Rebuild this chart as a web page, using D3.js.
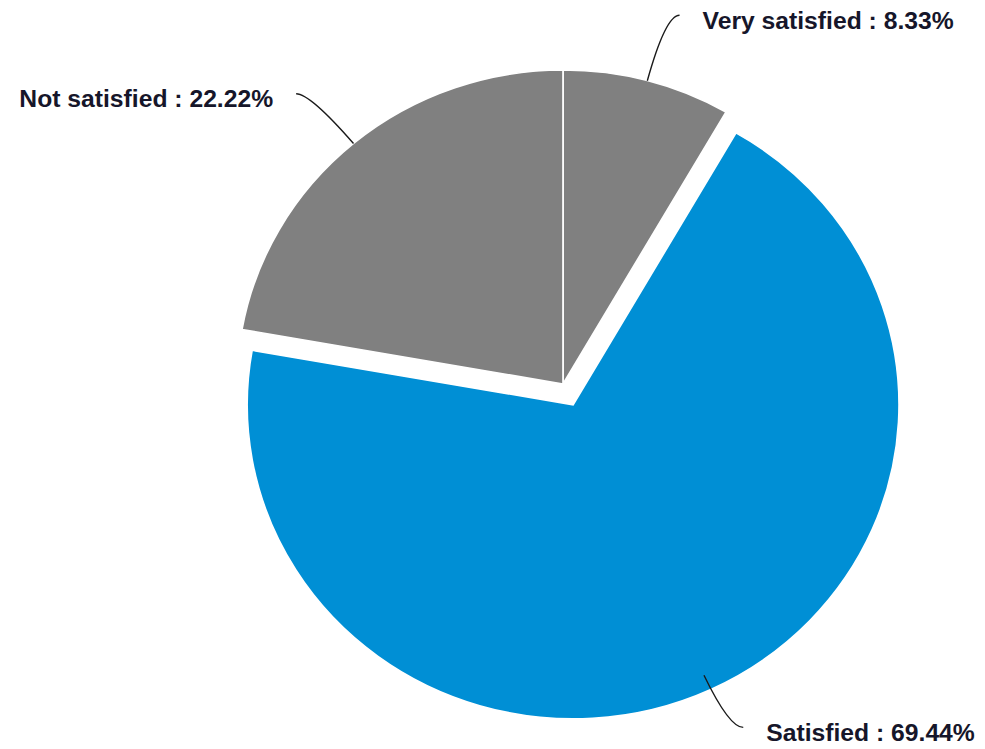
<!DOCTYPE html>
<html>
<head>
<meta charset="utf-8">
<script src="https://cdn.jsdelivr.net/npm/d3@7"></script>
<style>
  html, body { margin: 0; padding: 0; background: #ffffff; }
  svg { display: block; }
</style>
</head>
<body>
<div id="chart"></div>
<script>
// Survey responses: satisfaction levels (percent of respondents)
const categories = ["Very satisfied", "Satisfied", "Not satisfied"];
const values = [8.33, 69.44, 22.22];
const colors = ["#808080", "#008fd5", "#808080"];
const exploded = [false, true, false];
// leader side: +1 label to the right, -1 label to the left
const labelSide = [1, 1, -1];

const width = 985, height = 749;
const cx = 563, cy = 384;          // pie centre
const radius = 314;                // vertical radius
const stretchX = 1.038;            // pie is drawn slightly wider than tall
const explodeDist = 23;

const svg = d3.select("#chart").append("svg")
  .attr("width", width).attr("height", height);

const pie = d3.pie().sort(null).value(d => d.value)
  .startAngle(0).endAngle(2 * Math.PI);

const data = categories.map((c, i) => ({
  name: c, value: values[i], color: colors[i],
  exploded: exploded[i], side: labelSide[i]
}));
const arcs = pie(data);

const arc = d3.arc().innerRadius(0).outerRadius(radius);

// point on the (stretched) pie for a given angle and radius factor
function piePoint(angle, k, off) {
  return [
    cx + off[0] + radius * k * Math.sin(angle) * stretchX,
    cy + off[1] - radius * k * Math.cos(angle)
  ];
}
function offsetOf(a) {
  if (!a.data.exploded) return [0, 0];
  const mid = (a.startAngle + a.endAngle) / 2;
  return [explodeDist * Math.sin(mid) * stretchX, -explodeDist * Math.cos(mid)];
}

const slices = svg.append("g");
slices.selectAll("path")
  .data(arcs)
  .join("path")
  .attr("transform", a => {
    const o = offsetOf(a);
    return `translate(${cx + o[0]},${cy + o[1]}) scale(${stretchX},1)`;
  })
  .attr("d", arc)
  .attr("fill", a => a.data.color)
  .attr("stroke", "#ffffff")
  .attr("stroke-width", 1.6);

// leader lines and labels
const leaderLen = [68, 58, 66];
const anchorK = [1.0, 0.95, 1.0];
const hook = 14, gap = 23;

const labels = svg.append("g");
arcs.forEach((a, i) => {
  const mid = (a.startAngle + a.endAngle) / 2;
  const off = offsetOf(a);
  const p0 = piePoint(mid, anchorK[i], off);
  const dir = [Math.sin(mid) * stretchX, -Math.cos(mid)];
  const n = Math.hypot(dir[0], dir[1]);
  const ctrl = [p0[0] + dir[0] / n * leaderLen[i], p0[1] + dir[1] / n * leaderLen[i]];
  const end = [ctrl[0] + a.data.side * hook, ctrl[1]];

  const path = d3.path();
  path.moveTo(p0[0], p0[1]);
  path.quadraticCurveTo(ctrl[0], ctrl[1], end[0], end[1]);
  labels.append("path")
    .attr("d", path.toString())
    .attr("fill", "none")
    .attr("stroke", "#1a1a1a")
    .attr("stroke-width", 1.4);

  labels.append("text")
    .attr("x", end[0] + a.data.side * gap)
    .attr("y", end[1] + 13.5)
    .attr("text-anchor", a.data.side > 0 ? "start" : "end")
    .attr("font-family", "'Liberation Sans', Arial, sans-serif")
    .attr("font-weight", "bold")
    .attr("font-size", 24.7)
    .attr("fill", "#16162a")
    .text(`${a.data.name} : ${d3.format(".2f")(a.data.value)}%`);
});
</script>
</body>
</html>
